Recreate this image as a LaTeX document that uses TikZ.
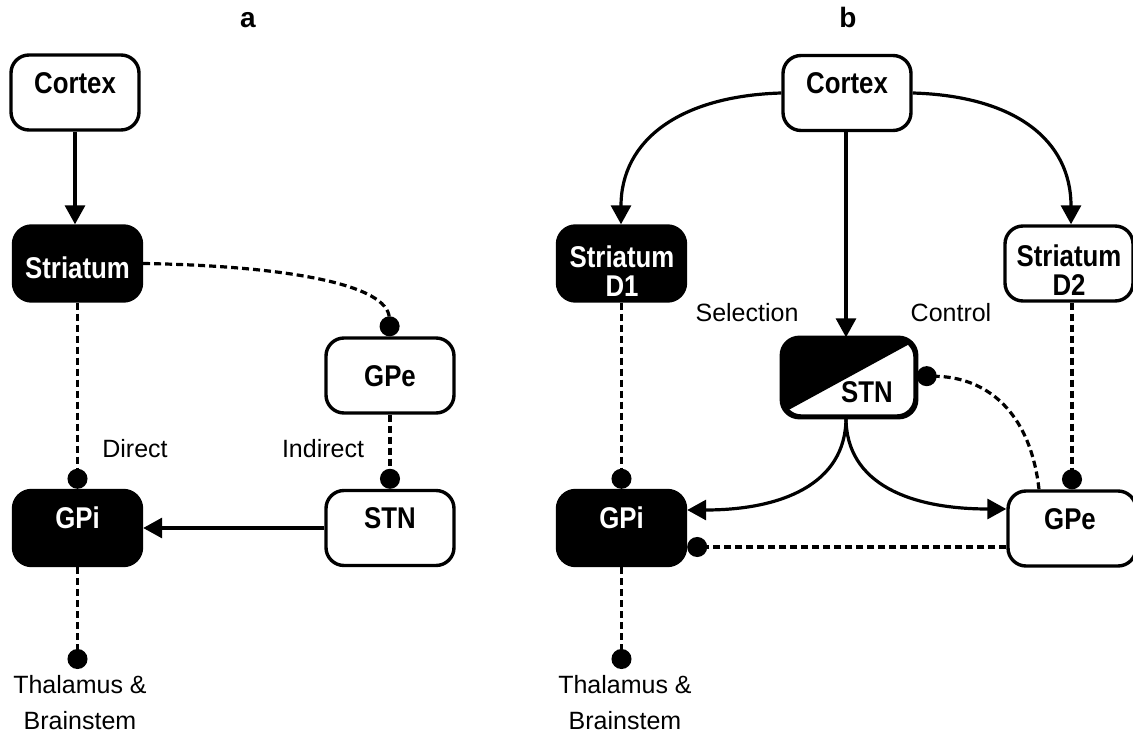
\documentclass[tikz,border=0pt]{standalone}
\usepackage{fontspec}
\setmainfont{Liberation Sans}
\newfontfamily\boxfont{Liberation Sans}[FakeStretch=0.86]
\usetikzlibrary{arrows.meta}

\tikzset{
  box/.style={draw, line width=3.4pt, rounded corners=18pt, minimum width=128pt,
              minimum height=75pt, inner sep=0pt},
  dark/.style={box, fill=black},
  light/.style={box, fill=white},
  lbl/.style={inner sep=0pt, font=\boxfont\bfseries\fontsize{30}{31}\selectfont},
  lblw/.style={lbl, text=white},
  tag/.style={inner sep=0pt, font=\fontsize{25}{36}\selectfont, align=center},
  ttl/.style={inner sep=0pt, anchor=base, font=\bfseries\fontsize{28}{28}\selectfont},
  exc/.style={line width=3.2pt, -{Triangle[length=19pt,width=20pt]}},
  inh/.style={line width=3.2pt, dash pattern=on 7pt off 4pt, -{Circle[length=20pt]}},
}

\begin{document}
\begin{tikzpicture}[x=1pt,y=-1pt]
\useasboundingbox (0,0) rectangle (1133,735);

% ---------------- panel a ----------------
\node[ttl] (ta) at (248,28) {a};

\node[light] (cA) at (75,92.5) {};
\node[lbl] (cAt) at (75,83) {Cortex};

\node[dark] (sA) at (77.5,263.5) {};
\node[lblw] (sAt) at (77.5,268) {Striatum};

\node[light] (gpeA) at (390,375.5) {};
\node[lbl] (gpeAt) at (390,376) {GPe};

\node[dark] (gpiA) at (77.5,528) {};
\node[lblw] (gpiAt) at (77.5,518) {GPi};

\node[light] (stnA) at (390,528) {};
\node[lbl] (stnAt) at (390,518) {STN};

\coordinate (thA) at (77.5,669);
\node[tag] (thAt) at (80,703) {Thalamus \&\\Brainstem};

\node[tag] (dir) at (135,449) {Direct};
\node[tag] (ind) at (323,449) {Indirect};

\draw[exc] (cA.south) -- (cA.south |- sA.north);
\draw[inh] (sA.east) .. controls (290,266) and (388,285) .. (gpeA.north);
\draw[inh] (sA.south) -- (gpiA.north);
\draw[inh] (gpeA.south) -- (stnA.north);
\draw[exc] (stnA.west) -- (gpiA.east);
\draw[inh] (gpiA.south) -- (thA);

% ---------------- panel b ----------------
\node[ttl] (tb) at (848,28) {b};

\node[light] (cB) at (847,93) {};
\node[lbl] (cBt) at (847,83) {Cortex};

\node[dark] (d1) at (621.5,263.5) {};
\node[lblw, align=center] (d1t) at (622,271) {Striatum\\[-2pt]D1};

\node[light] (d2) at (1069,263.5) {};
\node[lbl, align=center] (d2t) at (1069,270) {Striatum\\[-2pt]D2};

% STN: upper-left half dark, split along the diagonal
\node[light, minimum width=132pt, minimum height=77pt] (stnB) at (849,377.5) {};
\begin{scope}
  \clip[rounded corners=18pt] (stnB.north west) rectangle (stnB.south east);
  \fill (783,413) -- (915,341) -- (915,330) -- (775,330) -- (775,413) -- cycle;
\end{scope}
\draw[line width=3.4pt, rounded corners=18pt] (stnB.north west) rectangle (stnB.south east);
\node[lbl] (stnBt) at (867,392) {STN};

\node[dark] (gpiB) at (621.5,528) {};
\node[lblw] (gpiBt) at (621.5,518) {GPi};

\node[light] (gpeB) at (1072,528.5) {};
\node[lbl] (gpeBt) at (1070,519) {GPe};

\coordinate (thB) at (621.5,669);
\node[tag] (thBt) at (625,703) {Thalamus \&\\Brainstem};

\node[tag] (sel) at (747,313) {Selection};
\node[tag] (ctl) at (951,313) {Control};

\coordinate (cBl) at (cB.west |- 0,93);
\coordinate (cBr) at (cB.east |- 0,93);
\draw[exc] (cBl) .. controls (680,96) and (621,140) .. (d1.north -| 621,0);
\draw[exc] (cBr) .. controls (1015,96) and (1071,140) .. (d2.north -| 1071,0);
\draw[exc] (cB.south -| 846,0) -- (stnB.north -| 846,0);

\coordinate (stnBot) at (stnB.south -| 846,0);
\draw[exc] (stnBot) .. controls (846,485) and (780,510) .. (gpiB.east |- 0,510);
\draw[exc] (stnBot) .. controls (846,485) and (912,509) .. (gpeB.west |- 0,509);

\draw[inh] (d1.south) -- (gpiB.north);
\draw[inh] (d2.south -| 1072,0) -- (gpeB.north -| 1072,0);
\draw[inh] (gpeB.north -| 1039,0) .. controls (1030,410) and (985,377) .. (stnB.east |- 0,376);
\draw[inh] (gpeB.west |- 0,547) -- (gpiB.east |- 0,547);
\draw[inh] (gpiB.south) -- (thB);
\end{tikzpicture}
\end{document}
